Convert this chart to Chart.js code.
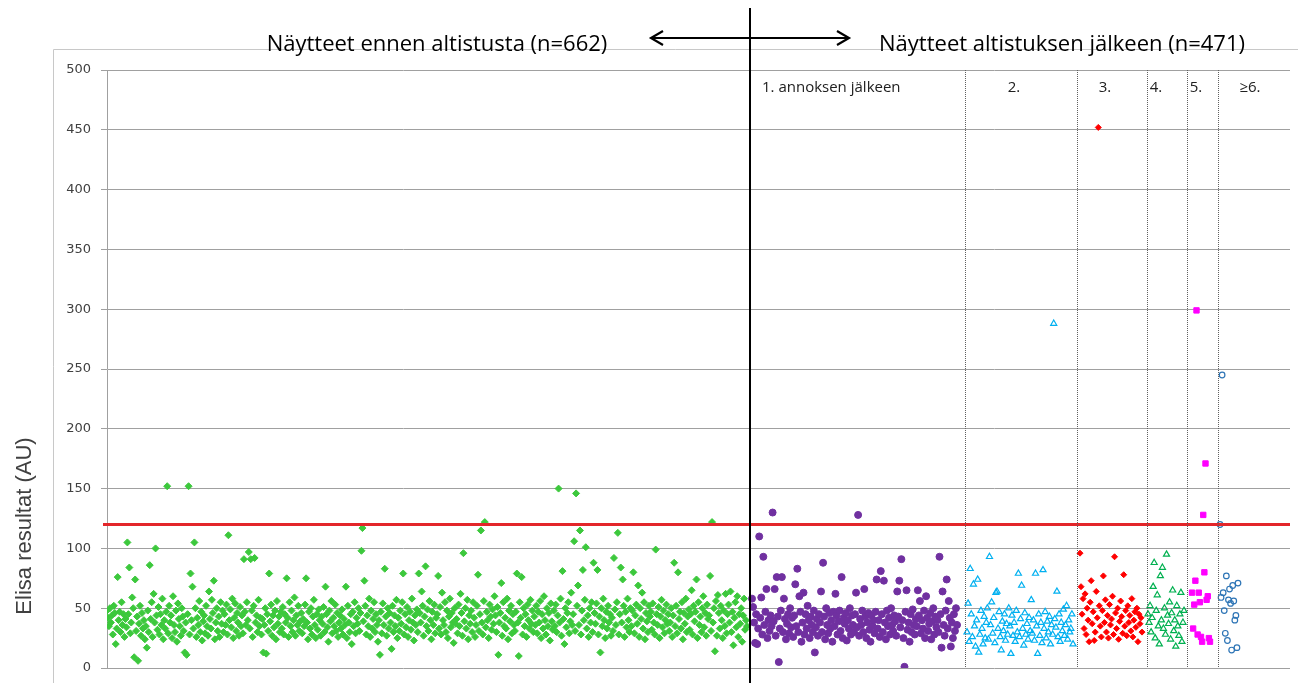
<!DOCTYPE html>
<html>
<head>
<meta charset="utf-8">
<script src="https://cdn.jsdelivr.net/npm/chart.js@4.4.1/dist/chart.umd.min.js"></script>
<style>
  html, body { margin: 0; padding: 0; background: #fff; }
  canvas { display: block; }
</style>
</head>
<body>
<canvas id="chart" width="1298" height="683"></canvas>
<script>
// Elisa results before / after exposure
const preValues = [
  48,42,35,50,38,44,28,52,46,20,33,76,40,47,30,55,36,45,26,41,
  34,105,45,84,29,38,59,50,9,74,31,43,6,37,52,27,46,33,40,24,
  35,17,48,30,86,41,55,26,62,38,100,44,32,51,28,45,36,58,24,40,
  33,47,152,29,52,38,44,25,60,36,30,48,22,54,41,35,27,50,43,31,
  13,38,11,45,152,28,79,40,68,33,105,50,26,42,36,56,30,47,23,39,
  44,29,52,35,27,64,41,33,57,46,73,24,38,50,31,43,26,55,37,48,
  30,45,36,53,28,111,40,49,34,58,25,42,54,31,46,38,27,51,35,44,
  29,91,47,36,55,40,97,33,91,48,26,52,92,38,44,30,57,35,42,28,
  41,13,36,50,12,45,31,79,39,53,27,44,34,48,24,56,37,43,30,47,
  33,51,28,45,38,75,42,26,55,35,48,30,40,59,27,44,36,52,31,39,
  46,29,41,35,53,75,38,24,47,33,50,28,43,57,36,25,45,32,49,40,
  27,43,37,51,30,68,45,34,22,48,39,56,29,42,35,53,31,46,26,38,
  44,33,49,28,41,36,68,25,52,38,30,45,20,47,35,55,29,42,37,50,
  31,46,98,117,39,73,52,28,44,35,58,26,48,33,41,55,30,45,36,22,
  40,11,47,29,54,36,83,43,27,50,33,46,38,16,52,30,44,35,57,25,
  42,31,48,37,55,79,28,45,34,51,26,40,47,32,58,38,23,44,36,49,
  30,79,46,38,64,52,27,43,85,35,49,31,56,40,24,47,36,53,29,42,
  45,77,33,51,28,63,40,36,55,30,48,25,43,58,34,46,38,21,50,37,
  41,29,53,35,62,46,27,96,39,50,33,57,24,44,37,48,30,55,42,26,
  36,52,78,31,45,115,38,28,56,122,34,47,40,25,53,43,32,49,37,60,
  44,30,51,11,38,46,71,27,55,35,42,33,58,24,48,39,52,29,45,36,
  31,47,79,38,10,55,42,76,28,50,35,45,26,53,40,33,57,37,48,30,
  43,36,52,29,47,38,56,25,45,33,60,40,28,50,35,46,23,54,39,32,
  48,35,53,30,44,150,38,58,27,81,41,20,50,34,46,55,29,39,63,36,
  45,106,31,146,52,69,36,115,28,48,82,40,57,101,33,44,26,50,38,55,
  30,88,46,37,54,82,28,43,13,50,35,58,40,25,47,33,52,38,45,27,
  42,31,92,49,36,55,113,28,45,84,38,74,52,26,47,34,58,40,30,50,
  35,48,80,29,44,53,37,69,26,50,41,63,33,55,24,46,39,30,52,43,
  47,32,54,38,28,99,45,36,51,25,43,57,34,48,29,40,53,37,45,31,
  38,50,26,44,88,35,52,29,80,41,47,33,55,24,46,37,58,30,43,49,
  32,45,65,28,52,39,47,74,25,55,36,43,30,50,60,34,46,27,53,41,
  44,77,31,122,38,50,14,56,27,61,46,33,52,40,25,48,35,62,29,45,
  53,38,64,30,47,19,42,55,34,60,26,45,37,50,22,44,58,32,40,35
];
const dose1Values = [
  58,51,38,21,45,20,33,110,42,59,28,93,36,47,66,25,40,31,44,35,
  130,39,66,27,76,43,5,33,48,76,30,58,41,24,37,45,29,50,34,42,
  26,44,70,35,83,30,60,47,22,38,63,28,45,33,52,40,25,43,36,30,
  48,13,34,41,27,45,38,64,30,88,43,24,50,36,29,46,33,40,22,47,
  35,62,44,28,39,48,31,76,25,42,37,46,23,40,33,50,28,44,36,30,
  45,63,34,128,27,41,36,48,30,66,43,25,38,46,32,22,44,35,40,29,
  47,74,33,40,26,81,45,30,73,38,24,48,35,42,28,50,36,31,44,39,
  27,64,43,73,34,91,40,25,1,47,65,32,38,22,45,30,49,36,28,41,
  35,65,44,56,29,40,33,48,25,60,42,31,37,46,24,39,50,28,43,34,
  40,30,93,45,17,64,36,27,48,74,33,56,42,18,38,25,45,31,50,36
];
const dose2Values = [
  30,54,22,83,45,26,70,35,18,40,74,13,28,48,33,20,43,25,38,50,
  24,93,36,55,29,42,21,63,64,33,47,26,15,39,31,45,23,37,28,50,
  35,12,44,27,38,22,48,30,79,26,41,69,33,19,46,28,37,24,42,31,
  57,29,40,23,79,35,12,45,27,38,21,82,33,47,25,39,30,43,20,36,
  28,288,41,34,64,26,45,22,38,31,49,27,36,52,24,40,30,33,45,20
];
const dose3Values = [
  96,68,45,58,33,62,28,50,40,22,55,73,37,47,23,30,64,42,452,52,
  35,26,48,77,38,57,30,44,25,53,36,41,60,28,93,46,33,50,24,39,
  56,43,29,78,35,48,27,52,38,44,31,58,26,40,47,34,50,22,45,37,42,30
];
const dose4Values = [
  45,38,52,30,42,68,88,25,48,61,35,20,77,40,84,33,50,28,95,44,
  37,55,24,46,65,31,40,18,52,35,27,45,63,22,38,48
];
const dose5Values = [63,33,53,73,299,28,63,55,26,22,128,80,171,57,60,25,22];
const dose6Values = [120,59,245,63,48,29,77,23,57,66,54,15,69,56,40,44,17,71];

// sample order position of each group and of the group borders
const groupStart = [0, 645, 860, 973, 1041, 1085, 1113];
const groupEnd = [640, 850, 966, 1035, 1077, 1103, 1131];
const dividers = [643, 858, 970, 1040, 1080, 1111];
const xMax = 1183;
const threshold = 120;
const yMin = 0, yMax = 500, yStep = 50;

const titleBefore = 'Näytteet ennen altistusta (n=662)';
const titleAfter = 'Näytteet altistuksen jälkeen (n=471)';
const groupLabels = ['1. annoksen jälkeen', '2.', '3.', '4.', '5.', '≥6.'];
const yTitle = 'Elisa resultat (AU)';

function spread(values, g){
  const n = values.length;
  return values.map((v, i) => ({x: groupStart[g] + i * (groupEnd[g] - groupStart[g]) / (n - 1), y: v}));
}

const annotations = {
  id: 'annotations',
  beforeDraw(chart){
    const ctx = chart.ctx;
    ctx.save();
    ctx.strokeStyle = '#c8c8c8';
    ctx.lineWidth = 1;
    ctx.beginPath();
    ctx.moveTo(53.5, 683); ctx.lineTo(53.5, 49.5); ctx.lineTo(1298, 49.5);
    ctx.stroke();
    // y axis title, placed like the original (not centred on the axis)
    ctx.translate(25, 526);
    ctx.rotate(-Math.PI / 2);
    ctx.font = '22px "Liberation Sans"';
    ctx.fillStyle = '#404040';
    ctx.textAlign = 'center';
    ctx.textBaseline = 'middle';
    ctx.fillText(yTitle, 0, 0);
    ctx.restore();
  },
  afterDatasetsDraw(chart){
    const ctx = chart.ctx, xs = chart.scales.x, a = chart.chartArea;
    ctx.save();
    // dotted borders between dose groups
    ctx.strokeStyle = '#606060';
    ctx.lineWidth = 1;
    ctx.setLineDash([1, 1]);
    dividers.slice(1).forEach(d => {
      const px = Math.round(xs.getPixelForValue(d)) + 0.5;
      ctx.beginPath(); ctx.moveTo(px, a.top); ctx.lineTo(px, a.bottom); ctx.stroke();
    });
    ctx.setLineDash([]);
    // before / after border
    const bx = Math.round(xs.getPixelForValue(dividers[0]));
    ctx.strokeStyle = '#000';
    ctx.lineWidth = 2;
    ctx.beginPath(); ctx.moveTo(bx, 8); ctx.lineTo(bx, 683); ctx.stroke();
    // arrows
    const ay = 38;
    ctx.lineWidth = 2.2;
    ctx.beginPath();
    ctx.moveTo(bx - 98, ay); ctx.lineTo(bx + 98, ay);
    ctx.moveTo(bx - 87, ay - 7); ctx.lineTo(bx - 99, ay); ctx.lineTo(bx - 87, ay + 7);
    ctx.moveTo(bx + 87, ay - 7); ctx.lineTo(bx + 99, ay); ctx.lineTo(bx + 87, ay + 7);
    ctx.stroke();
    // headings
    ctx.fillStyle = '#000';
    ctx.font = '22px "Open Sans"';
    ctx.textAlign = 'center';
    ctx.textBaseline = 'alphabetic';
    ctx.fillText(titleBefore, 437, 51);
    ctx.fillText(titleAfter, 1062, 51);
    // group labels
    ctx.font = '15px "Open Sans"';
    ctx.fillStyle = '#202020';
    ctx.textBaseline = 'middle';
    ctx.textAlign = 'left';
    ctx.fillText(groupLabels[0], xs.getPixelForValue(dividers[0]) + 12, 88);
    ctx.textAlign = 'center';
    const lx = [907, 998, 1049, 1089, 1143];
    groupLabels.slice(1).forEach((t, i) => ctx.fillText(t, xs.getPixelForValue(lx[i]), 88));
    ctx.restore();
  }
};

function scatterSet(values, g, style){
  return Object.assign({type: 'scatter', data: spread(values, g), order: 1, borderWidth: 1}, style);
}

new Chart(document.getElementById('chart'), {
  data: {
    datasets: [
      scatterSet(preValues, 0, {pointStyle: 'rectRot', pointRadius: 3.5, backgroundColor: '#3cc83c', borderColor: '#3cc83c'}),
      scatterSet(dose1Values, 1, {pointStyle: 'circle', pointRadius: 3.5, backgroundColor: '#7030a0', borderColor: '#7030a0'}),
      scatterSet(dose2Values, 2, {pointStyle: 'triangle', pointRadius: 3.5, backgroundColor: 'rgba(0,0,0,0)', borderColor: '#00b0f0', borderWidth: 1.2}),
      scatterSet(dose3Values, 3, {pointStyle: 'rectRot', pointRadius: 3, backgroundColor: '#ff0000', borderColor: '#ff0000'}),
      scatterSet(dose4Values, 4, {pointStyle: 'triangle', pointRadius: 3.5, backgroundColor: 'rgba(0,0,0,0)', borderColor: '#00b050', borderWidth: 1.2}),
      scatterSet(dose5Values, 5, {pointStyle: 'rect', pointRadius: 3.8, backgroundColor: '#ff00ff', borderColor: '#ff00ff'}),
      scatterSet(dose6Values, 6, {pointStyle: 'circle', pointRadius: 2.8, backgroundColor: 'rgba(0,0,0,0)', borderColor: '#2e75b6', borderWidth: 1.2}),
      {type: 'line', data: [{x: -4, y: threshold}, {x: xMax, y: threshold}], borderColor: '#e3262a', borderWidth: 3, pointRadius: 0, clip: false, order: 0}
    ]
  },
  options: {
    responsive: false,
    animation: false,
    devicePixelRatio: 1,
    layout: {padding: {left: 0, top: 70, right: 8, bottom: 15}},
    plugins: {legend: {display: false}, tooltip: {enabled: false}},
    scales: {
      x: {type: 'linear', min: 0, max: xMax, display: false},
      y: {
        type: 'linear', min: yMin, max: yMax,
        ticks: {stepSize: yStep, padding: 10, color: '#404040', font: {family: 'DejaVu Sans', size: 13}},
        grid: {color: '#a0a0a0', tickLength: 6},
        border: {color: '#a0a0a0'},
        afterFit(s){ s.width = 107; s.paddingBottom = 0; s.paddingTop = 0; }
      }
    }
  },
  plugins: [annotations]
});
</script>
</body>
</html>
